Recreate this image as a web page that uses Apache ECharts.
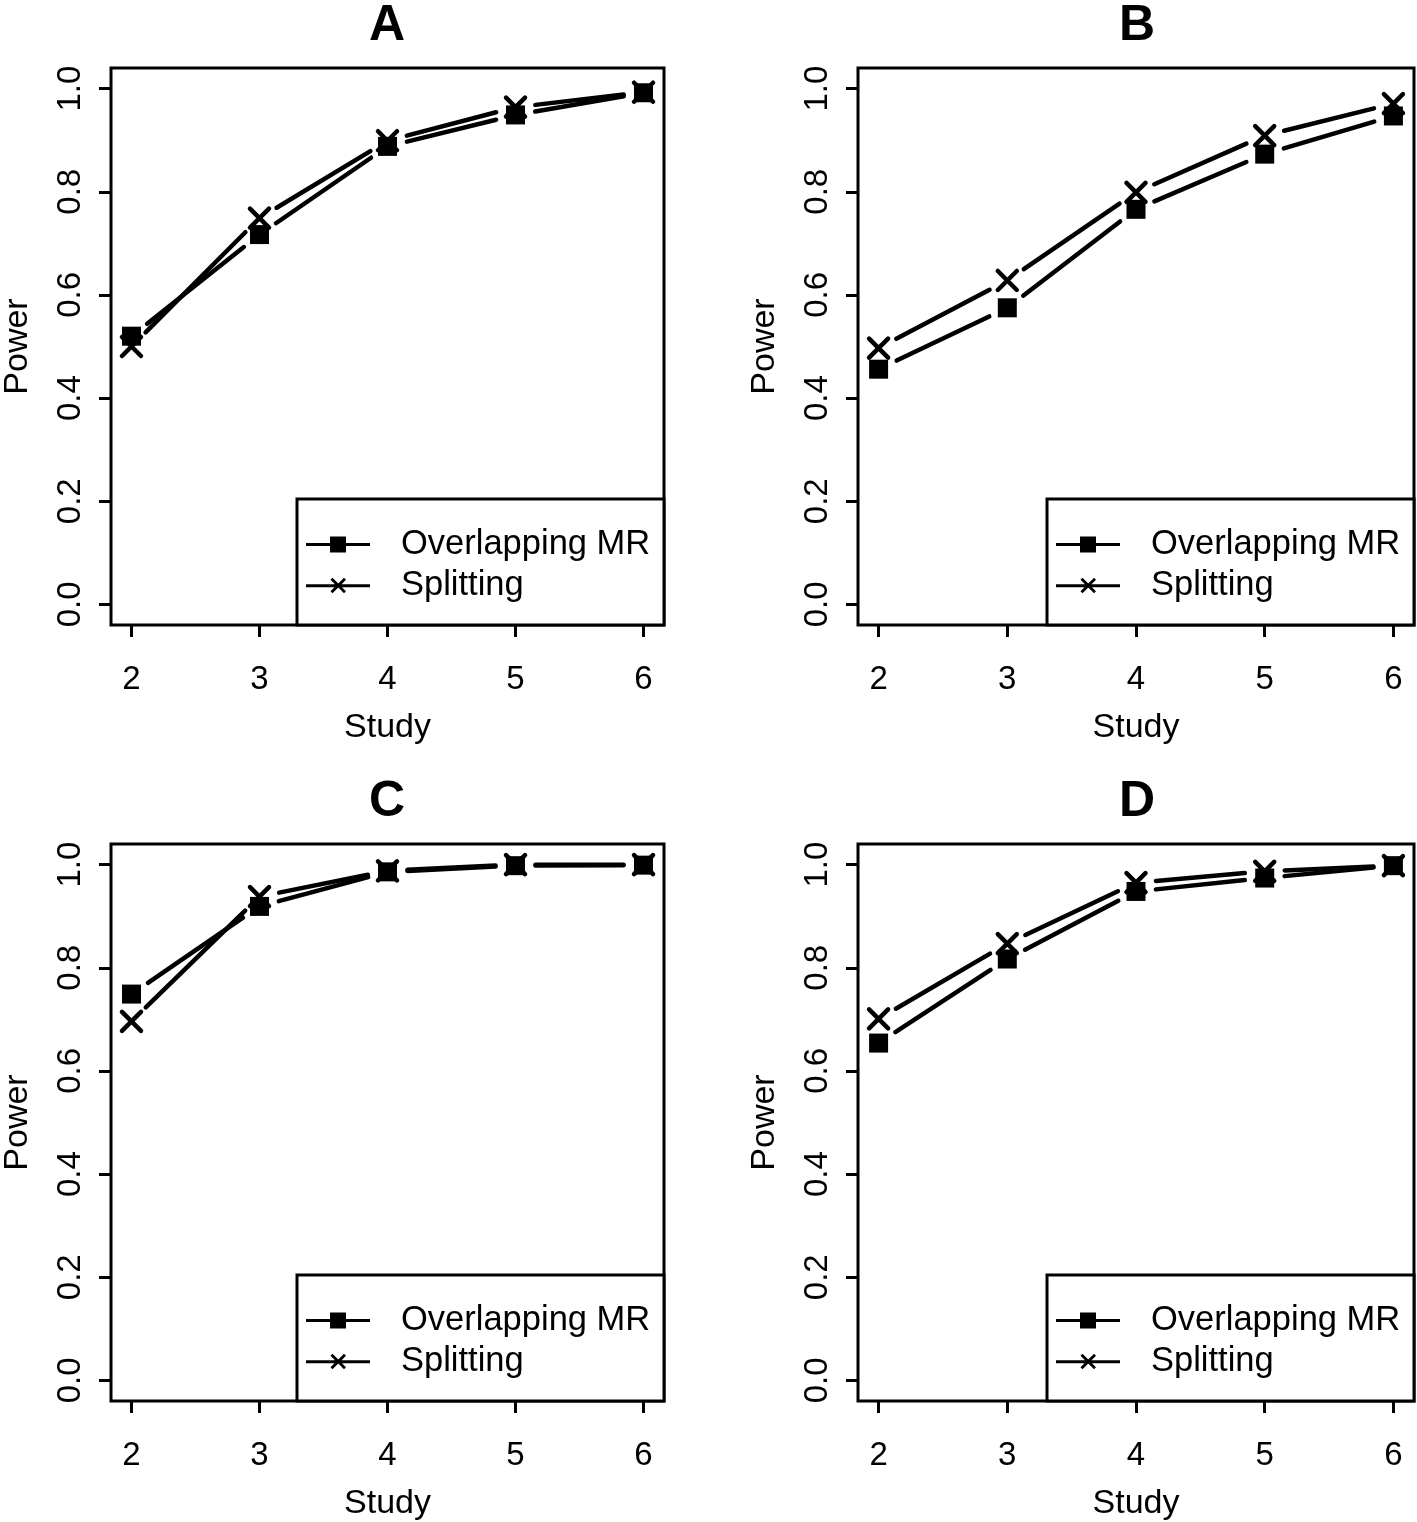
<!DOCTYPE html>
<html>
<head>
<meta charset="utf-8">
<script src="https://cdn.jsdelivr.net/npm/echarts@6/dist/echarts.min.js"></script>
<style>
  html, body { margin: 0; padding: 0; background: #fff; }
  #main { width: 1417px; height: 1522px; }
</style>
</head>
<body>
<div id="main"></div>
<script>
// data
var studies = [2, 3, 4, 5, 6];
var yTicks = [0, 0.2, 0.4, 0.6, 0.8, 1.0];
var panelNames = ['A', 'B', 'C', 'D'];
var seriesNames = ['Overlapping MR', 'Splitting'];

var overlapA = [0.520, 0.717, 0.888, 0.949, 0.992];
var splitA   = [0.500, 0.749, 0.899, 0.964, 0.993];
var overlapB = [0.456, 0.575, 0.766, 0.873, 0.947];
var splitB   = [0.497, 0.628, 0.799, 0.909, 0.971];
var overlapC = [0.749, 0.919, 0.986, 0.998, 0.999];
var splitC   = [0.696, 0.938, 0.988, 1.000, 1.000];
var overlapD = [0.654, 0.817, 0.948, 0.974, 0.998];
var splitD   = [0.701, 0.847, 0.965, 0.987, 0.998];

var overlapAll = [overlapA, overlapB, overlapC, overlapD];
var splitAll = [splitA, splitB, splitC, splitD];

var FONT = '"Liberation Sans", Arial, sans-serif';
var GAP = 20; // R type="b": line stops short of the points

// panel frames
var panels = [
  { left: 108, top: 68 },
  { left: 858, top: 68 },
  { left: 108, top: 844 },
  { left: 858, top: 844 }
];
var PW = 556, PH = 557;

var myChart = echarts.init(document.getElementById('main'));

function pts(vals) {
  return studies.map(function (s, i) { return [s, vals[i]]; });
}
function segs(vals) {
  var out = [];
  for (var i = 0; i < studies.length - 1; i++) {
    out.push([studies[i], vals[i], studies[i + 1], vals[i + 1]]);
  }
  return out;
}
function renderSeg(params, api) {
  var a = api.coord([api.value(0), api.value(1)]);
  var b = api.coord([api.value(2), api.value(3)]);
  var dx = b[0] - a[0], dy = b[1] - a[1];
  var len = Math.sqrt(dx * dx + dy * dy);
  if (len <= 2 * GAP) return;
  var ux = dx / len, uy = dy / len;
  return {
    type: 'line',
    shape: { x1: a[0] + ux * GAP, y1: a[1] + uy * GAP, x2: b[0] - ux * GAP, y2: b[1] - uy * GAP },
    style: { stroke: '#000', lineWidth: 4.5, lineCap: 'round' }
  };
}

var iconSquare = 'path://M0,6.5H64V9.5H0Z M24,0H40V16H24Z';
var iconCross = 'path://M0,6.5H64V9.5H0Z M26.5,0L40,13.5L38,15.5L24.5,2Z M40,2L26.5,15.5L24.5,13.5L38,0Z';

var grids = [], xAxes = [], yAxes = [], series = [], titles = [], legends = [], graphics = [];

panels.forEach(function (p, k) {
  grids.push({
    left: p.left, top: p.top, width: PW, height: PH,
    show: true, borderColor: '#000', borderWidth: 3, backgroundColor: '#fff'
  });
  xAxes.push({
    gridIndex: k, type: 'value', min: 1.84, max: 6.16, position: 'bottom',
    axisLine: { show: false, onZero: false },
    splitLine: { show: false },
    axisTick: { show: true, customValues: studies, length: 12, lineStyle: { color: '#000', width: 3 } },
    axisLabel: { customValues: studies, color: '#000', fontSize: 33, fontFamily: FONT, margin: 38 },
    name: 'Study', nameLocation: 'middle', nameGap: 86,
    nameTextStyle: { color: '#000', fontSize: 34, fontFamily: FONT }
  });
  yAxes.push({
    gridIndex: k, type: 'value', min: -0.04, max: 1.04,
    axisLine: { show: false, onZero: false },
    splitLine: { show: false },
    axisTick: { show: true, customValues: yTicks, length: 12, lineStyle: { color: '#000', width: 3 } },
    axisLabel: {
      customValues: yTicks, rotate: 90, color: '#000', fontSize: 33, fontFamily: FONT, margin: 24,
      formatter: function (v) { return v.toFixed(1); }
    },
    name: 'Power', nameLocation: 'middle', nameRotate: 90, nameGap: 76,
    nameTextStyle: { color: '#000', fontSize: 34, fontFamily: FONT }
  });

  // connecting lines with gaps
  [overlapAll[k], splitAll[k]].forEach(function (vals) {
    series.push({
      type: 'custom', xAxisIndex: k, yAxisIndex: k,
      data: segs(vals), encode: { x: [0, 2], y: [1, 3] },
      renderItem: renderSeg, silent: true, z: 2
    });
  });
  // markers
  series.push({
    name: seriesNames[0], type: 'scatter', xAxisIndex: k, yAxisIndex: k,
    data: pts(overlapAll[k]), symbol: 'rect', symbolSize: 19,
    itemStyle: { color: '#000', opacity: 1 }, z: 3
  });
  series.push({
    name: seriesNames[1], type: 'scatter', xAxisIndex: k, yAxisIndex: k,
    data: pts(splitAll[k]), symbol: 'path://M0,0L20,20M20,0L0,20', symbolSize: 19,
    itemStyle: { color: 'rgba(0,0,0,0)', borderColor: '#000', borderWidth: 4.5, borderCap: 'round', opacity: 1 }, z: 4
  });

  titles.push({
    text: panelNames[k], left: p.left + PW / 2 - 22, top: p.top - 72,
    textStyle: { fontSize: 50, fontWeight: 'bold', color: '#000', fontFamily: FONT }
  });

  // legend box (bottom right of each panel)
  graphics.push({
    type: 'rect',
    shape: { x: p.left + 189, y: p.top + 431, width: PW - 189, height: PH - 431 },
    style: { fill: '#fff', stroke: '#000', lineWidth: 3 },
    z: 5
  });
  legends.push({
    orient: 'vertical', left: p.left + 193, top: p.top + 451,
    itemWidth: 64, itemHeight: 16, itemGap: 0,
    data: [
      { name: seriesNames[0], icon: iconSquare },
      { name: seriesNames[1], icon: iconCross }
    ],
    itemStyle: { color: '#000', borderWidth: 0, opacity: 1 },
    textStyle: { fontSize: 34.5, lineHeight: 41, color: '#000', fontFamily: FONT, padding: [0, 0, 0, 26] },
    z: 10
  });
});

var option = {
  backgroundColor: '#fff',
  animation: false,
  title: titles,
  legend: legends,
  grid: grids,
  xAxis: xAxes,
  yAxis: yAxes,
  graphic: graphics,
  series: series
};
myChart.setOption(option);
</script>
</body>
</html>
